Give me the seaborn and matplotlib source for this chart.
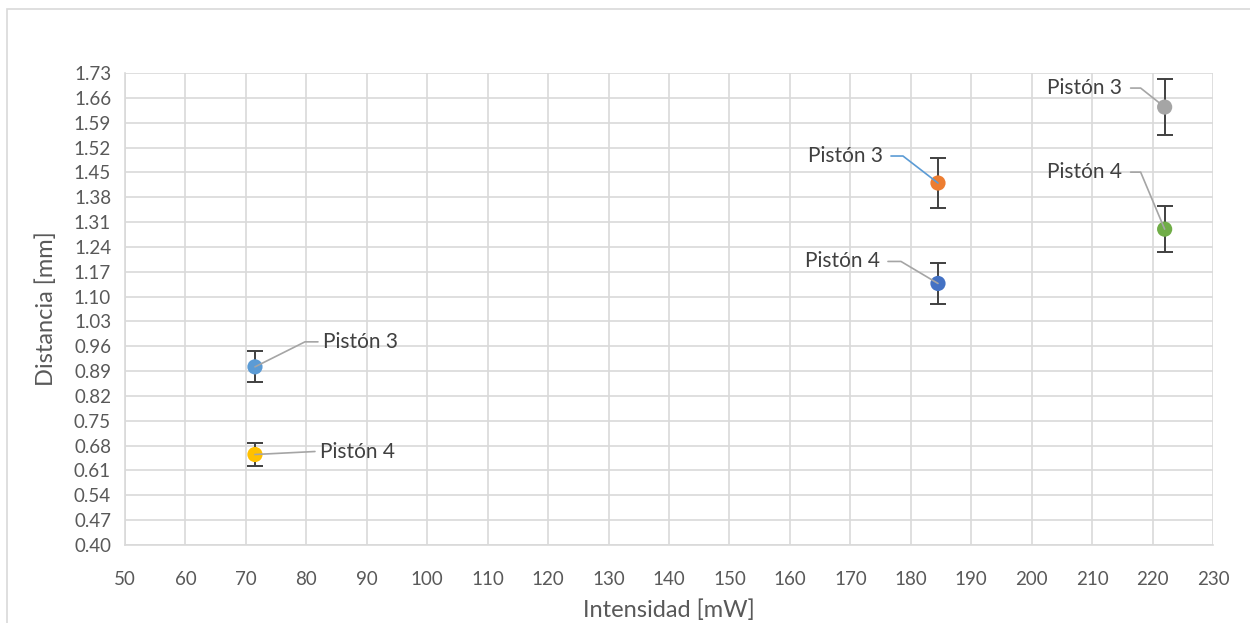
import numpy as np
import pandas as pd
import matplotlib
matplotlib.use("Agg")
import matplotlib.pyplot as plt
import matplotlib.transforms as mtransforms
from matplotlib.patches import Rectangle
import seaborn as sns

# Data
intensidad = [71.5, 71.5, 184.5, 184.5, 222.0, 222.0]
distancia = [0.902, 0.655, 1.420, 1.137, 1.634, 1.290]
error = [0.044, 0.032, 0.070, 0.057, 0.080, 0.065]
serie = ["a3", "a4", "b3", "b4", "c3", "c4"]
etiquetas = ["Pistón 3", "Pistón 4", "Pistón 3", "Pistón 4", "Pistón 3", "Pistón 4"]
colores = ["#5B9BD5", "#FFC000", "#ED7D31", "#4472C4", "#A5A5A5", "#70AD47"]

x_ticks = np.arange(50, 231, 10)
y_ticks = np.round(np.arange(0.40, 1.731, 0.07), 2)

df = pd.DataFrame({"Intensidad": intensidad, "Distancia": distancia,
                   "err": error, "serie": serie})

sns.set_theme(style="white")
plt.rcParams["font.family"] = ["Lato", "DejaVu Sans"]

fig = plt.figure(figsize=(12.5, 6.23), dpi=100)
ax = fig.add_axes([125 / 1250, 1 - 545 / 623, (1213 - 125) / 1250, (545 - 73) / 623])

# outer chart border
fig.patches.append(Rectangle((7 / 1250, -0.2), 1.2, 1.2 - 9 / 623, transform=fig.transFigure,
                             fill=False, edgecolor="#D9D9D9", linewidth=1.2, zorder=0))

ax.errorbar(df["Intensidad"], df["Distancia"], yerr=df["err"], fmt="none",
            ecolor="#404040", elinewidth=1.4, capsize=5.5, capthick=1.4, zorder=3)
sns.scatterplot(data=df, x="Intensidad", y="Distancia", hue="serie",
                palette=colores, s=120, edgecolor=None, linewidth=0,
                legend=False, ax=ax, zorder=4)

# leader lines: offsets in pixels from the point (y up), label anchor
leaders = [
    ([(0, 0), (50, 25), (63, 25)], (68, 25), "left", "#A5A5A5"),
    ([(0, 0), (60, 3)], (65, 3), "left", "#A5A5A5"),
    ([(0, 0), (-35, 27), (-47, 27)], (-55, 27), "right", "#5B9BD5"),
    ([(0, 0), (-37, 22), (-50, 22)], (-58, 22), "right", "#A5A5A5"),
    ([(0, 0), (-24, 19), (-34, 19)], (-43, 19), "right", "#A5A5A5"),
    ([(0, 0), (-24, 57), (-34, 57)], (-43, 57), "right", "#A5A5A5"),
]
for i, (pts, txt, ha, lc) in enumerate(leaders):
    tr = fig.dpi_scale_trans + mtransforms.ScaledTranslation(intensidad[i], distancia[i], ax.transData)
    px = [p[0] / 100 for p in pts]
    py = [p[1] / 100 for p in pts]
    ax.plot(px, py, color=lc, linewidth=1.2, transform=tr, zorder=5)
    ax.text(txt[0] / 100, txt[1] / 100, etiquetas[i], transform=tr, ha=ha, va="center",
            fontsize=15, color="#404040", zorder=6)

ax.set_xlim(50, 230)
ax.set_ylim(0.40, 1.73)
ax.set_xticks(x_ticks)
ax.set_yticks(y_ticks)
ax.set_yticklabels([f"{v:.2f}" for v in y_ticks])
ax.grid(True, color="#D9D9D9", linewidth=1.2)
ax.set_axisbelow(True)
for side in ["top", "right"]:
    ax.spines[side].set_visible(False)
for side in ["left", "bottom"]:
    ax.spines[side].set_color("#D9D9D9")
    ax.spines[side].set_linewidth(1.2)
ax.tick_params(axis="both", length=0, labelsize=13.5, labelcolor="#595959")
ax.tick_params(axis="x", pad=19)
ax.tick_params(axis="y", pad=10)
ax.set_xlabel("Intensidad [mW]", fontsize=17, color="#595959", labelpad=8)
ax.set_ylabel("Distancia [mm]", fontsize=17, color="#595959", labelpad=12)

fig.savefig("out.png", dpi=100)
